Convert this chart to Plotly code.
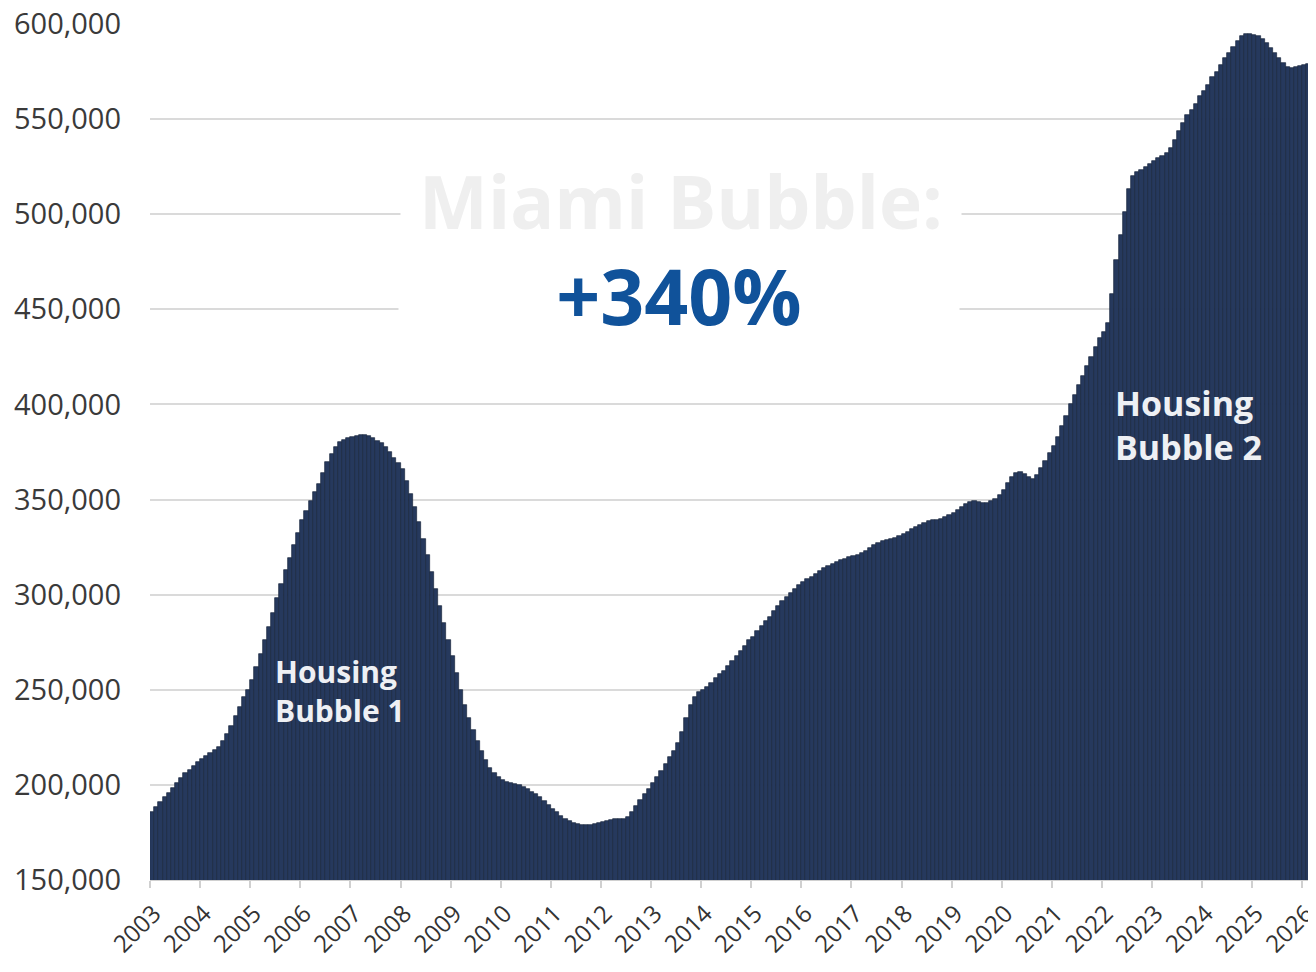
import plotly.graph_objects as go

# Monthly median price values (Jan 2003 .. Mar 2026)
years = list(range(2003, 2027))
values_by_year = {
    2003: [186, 188.5, 191, 193.5, 196, 198.5, 201, 203.5, 206, 208, 210, 212],
    2004: [213.5, 215, 217, 218.5, 220, 223, 227, 231, 236, 241, 246, 250],
    2005: [255, 262, 269, 276, 283, 290.5, 298, 305.5, 313, 319.5, 326, 332.5],
    2006: [339, 344, 349, 354, 358, 364, 369.5, 374, 377.5, 380, 381.5, 382.5],
    2007: [383, 383.5, 384, 384, 383.5, 382.5, 381, 379.5, 377.5, 375, 372, 369],
    2008: [366, 360, 353, 346, 338, 329.5, 321, 312, 303, 294, 285, 276],
    2009: [268, 259, 250, 242, 235, 229, 223, 218, 213, 209, 206, 204],
    2010: [202.5, 201.5, 201, 200.5, 200, 199, 198, 196.5, 195, 193.5, 191.5, 189.5],
    2011: [187.5, 185.5, 183.5, 182, 181, 180, 179.5, 179, 179, 179, 179.5, 180],
    2012: [180.5, 181, 181.5, 182, 182, 182, 183, 186, 189, 192, 195, 198],
    2013: [201, 204, 207.5, 211, 214.5, 218, 222, 228, 235, 242, 246, 249],
    2014: [250, 251.5, 253.5, 256, 258.5, 260, 262.5, 265, 268, 270.5, 273, 276],
    2015: [278, 281, 283.5, 286, 288.5, 291.5, 294, 296.5, 299, 301, 303, 305],
    2016: [306.5, 308, 309.5, 311, 312.5, 314, 315, 316, 317, 318, 319, 320],
    2017: [320.5, 321, 322, 323, 324.5, 326, 327, 328, 328.5, 329.5, 330, 331],
    2018: [332, 333, 334.5, 335.5, 336.5, 337.5, 338.5, 339, 339.5, 340, 341, 342],
    2019: [343, 344.5, 346, 347.5, 348.5, 349, 348.5, 348, 348, 349, 350.5, 352.5],
    2020: [355, 358.5, 362, 364, 364.5, 363.5, 362, 361, 363, 366.5, 370.5, 374.5],
    2021: [378, 383, 388.5, 394, 400, 405, 410, 415, 420, 425, 430, 435],
    2022: [438, 443, 458, 476, 489, 501, 513, 520, 522, 523.5, 525, 526.5],
    2023: [528, 529.5, 530.5, 532, 535, 539, 544, 548, 552, 555, 558, 562],
    2024: [565, 568, 572, 575, 578.5, 582, 585, 588, 591, 593.5, 594.5, 594.5],
    2025: [594, 593.5, 592, 590, 587.5, 585, 582, 579.5, 577.5, 577, 577.5, 578],
    2026: [578.5, 579, 579.5],
}

tick_labels = [str(y) for y in years]

xs, ys = [], []
for y in years:
    for m, v in enumerate(values_by_year[y]):
        xs.append(y + m / 12)
        ys.append(v * 1000)

BAR = "#26395d"
fig = go.Figure()
fig.add_trace(go.Bar(
    x=xs, y=ys, width=1 / 12, offset=0,
    marker=dict(color=BAR, line=dict(color="#18253d", width=0.7)),
    hoverinfo="skip",
))

W, H = 1308, 956
L, R, T, B = 142, 0, 16, 84
plot_w = W - L - R
plot_h = H - T - B
fig.update_layout(
    width=W, height=H,
    margin=dict(l=L, r=R, t=T, b=B, autoexpand=False),
    paper_bgcolor="white", plot_bgcolor="white",
    showlegend=False, bargap=0,
    font=dict(family="Open Sans", color="#3a3a3a"),
)
fig.update_xaxes(
    range=[2003, 2003 + plot_w / 50.1], automargin=False,
    tickmode="array", tickvals=years, ticktext=tick_labels,
    tickangle=-45, tickfont=dict(size=24, color="#333333", family="Open Sans"),
    ticks="outside", ticklen=7, tickcolor="#d0d0d0", tickwidth=1.5,
    ticklabelstandoff=2, ticklabelshift=4, ticklabeloverflow="allow",
    showgrid=False, showline=True, linecolor="#d0d0d0", zeroline=False,
)
fig.update_yaxes(
    range=[150000, 600000], dtick=50000, tickformat=",d", automargin=False,
    tickfont=dict(size=29, color="#3a3a3a", family="Open Sans"),
    showgrid=True, gridcolor="#dadada", gridwidth=2, ticklabeloverflow="allow",
    showline=False, zeroline=False, ticks="", ticklabelstandoff=28,
)

def px(xp):
    return (xp - 150) / plot_w

def py(yp):
    return 1 - (yp - 24) / plot_h

fig.add_annotation(
    xref="paper", yref="paper", x=px(681), y=py(200), xanchor="center", yanchor="middle",
    text="<b>Miami Bubble:</b>", showarrow=False,
    font=dict(family="Open Sans", size=73, color="#efefef"),
    bgcolor="white", width=560, height=96, borderpad=0,
)
fig.add_annotation(
    xref="paper", yref="paper", x=px(679), y=py(295), xanchor="center", yanchor="middle",
    text="<b>+340%</b>", showarrow=False,
    font=dict(family="Open Sans", size=77, color="#10529a"),
    bgcolor="white", width=560, height=96, borderpad=0,
)
fig.add_annotation(
    xref="paper", yref="paper", x=px(273), y=py(691), xanchor="left", yanchor="middle",
    text="<b>Housing<br>Bubble 1</b>", showarrow=False, align="left",
    font=dict(family="Open Sans", size=30, color="#eef0f4"),
)
fig.add_annotation(
    xref="paper", yref="paper", x=px(1113), y=py(425), xanchor="left", yanchor="middle",
    text="<b>Housing<br>Bubble 2</b>", showarrow=False, align="left",
    font=dict(family="Open Sans", size=34, color="#eef0f4"),
)

fig.write_html("out.html")
